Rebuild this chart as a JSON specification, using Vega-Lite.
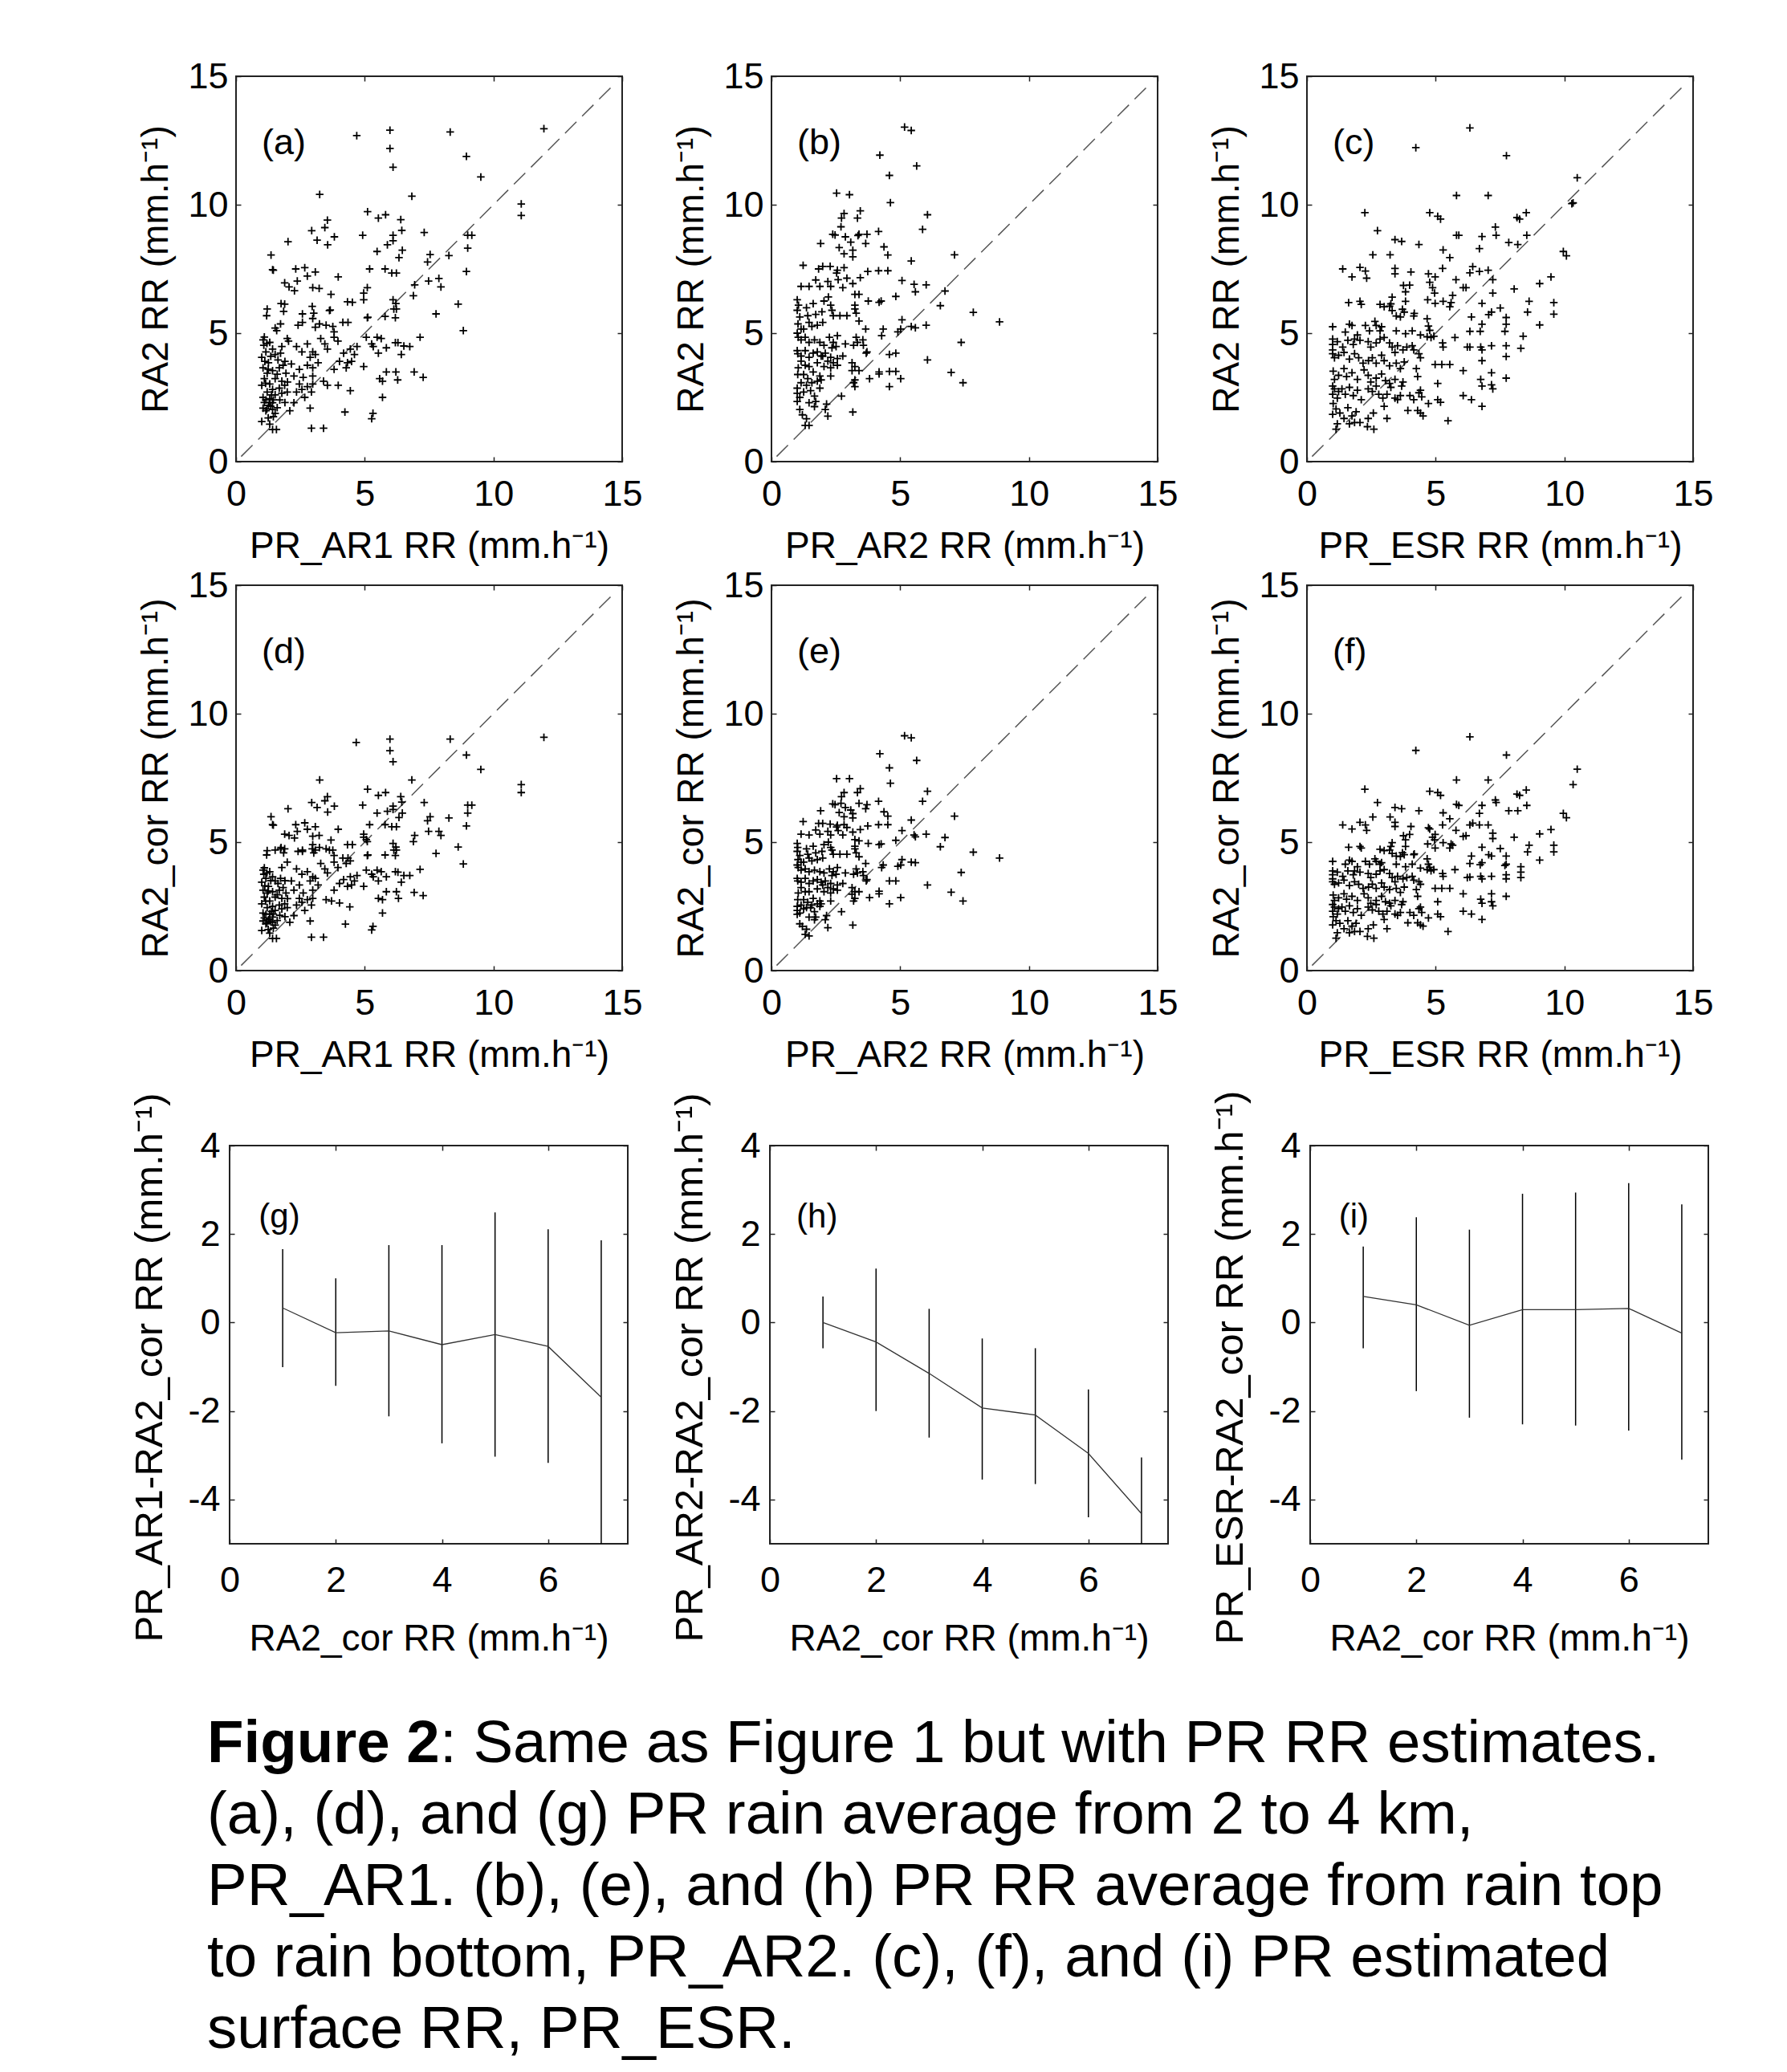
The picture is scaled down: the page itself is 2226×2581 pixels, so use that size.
{
"$schema": "https://vega.github.io/schema/vega-lite/v6.json",
"background": "white",
"padding": {"left": 161, "top": 72, "right": 0, "bottom": 0},
"config": {
  "font": "Liberation Sans",
  "view": {"stroke": "#222", "strokeWidth": 2},
  "axis": {"grid": false, "domain": false, "tickColor": "#222", "tickWidth": 1.5, "tickSize": -6,
           "labelFontSize": 45, "labelColor": "black", "titleFontSize": 46, "titleFontWeight": "normal",
           "titleColor": "black", "labelFlush": false, "labelOverlap": false},
  "axisX": {"labelPadding": 24, "titlePadding": 20},
  "axisY": {"labelPadding": 16, "titlePadding": 15}
},
"datasets": {
"diag": [{"x": 0.2, "y": 0.2}, {"x": 14.6, "y": 14.6}],
"a": [
{"x":4.69,"y":12.69},{"x":5.98,"y":12.9},{"x":5.98,"y":12.19},{"x":6.1,"y":11.46},{"x":8.32,"y":12.83},{"x":11.96,"y":12.96},{"x":8.95,"y":11.88},{"x":9.51,"y":11.08},{"x":11.08,"y":10.03},{"x":11.08,"y":9.58},{"x":3.25,"y":10.4},{"x":6.83,"y":10.33},{"x":5.11,"y":9.73},{"x":5.53,"y":9.48},{"x":5.81,"y":9.61},{"x":6.4,"y":9.42},{"x":3.55,"y":9.4},{"x":3.45,"y":9.11},{"x":2.94,"y":8.99},{"x":3.15,"y":8.62},{"x":3.56,"y":8.44},{"x":3.82,"y":8.75},{"x":2.02,"y":8.56},{"x":4.92,"y":8.81},{"x":6.1,"y":8.81},{"x":6.1,"y":8.6},{"x":5.88,"y":8.44},{"x":6.44,"y":9.0},{"x":6.46,"y":8.23},{"x":6.33,"y":7.94},{"x":5.48,"y":8.18},{"x":7.31,"y":8.92},{"x":7.54,"y":8.06},{"x":7.44,"y":7.77},{"x":9.0,"y":8.81},{"x":9.16,"y":8.81},{"x":9.0,"y":8.31},{"x":8.27,"y":8.02},{"x":8.95,"y":7.4},{"x":1.36,"y":8.04},{"x":1.42,"y":7.47},{"x":1.45,"y":7.45},{"x":2.32,"y":7.5},{"x":2.67,"y":7.55},{"x":3.08,"y":7.38},{"x":1.89,"y":6.96},{"x":2.06,"y":6.8},{"x":2.27,"y":6.65},{"x":2.38,"y":7.03},{"x":2.77,"y":7.22},{"x":3.97,"y":7.19},{"x":5.19,"y":7.5},{"x":5.79,"y":7.5},{"x":6.05,"y":7.34},{"x":6.23,"y":7.34},{"x":6.94,"y":6.88},{"x":7.48,"y":7.03},{"x":7.88,"y":7.13},{"x":7.96,"y":6.8},{"x":2.98,"y":6.77},{"x":3.23,"y":6.74},{"x":3.69,"y":6.51},{"x":5.1,"y":6.77},{"x":4.96,"y":6.56},{"x":4.96,"y":6.3},{"x":6.89,"y":6.46},{"x":6.1,"y":6.3},{"x":6.21,"y":6.15},{"x":6.13,"y":5.94},{"x":4.33,"y":6.22},{"x":4.52,"y":6.2},{"x":8.63,"y":6.13},{"x":1.75,"y":6.15},{"x":1.89,"y":6.13},{"x":1.85,"y":5.85},{"x":1.21,"y":5.94},{"x":1.19,"y":5.68},{"x":2.58,"y":5.75},{"x":2.96,"y":6.04},{"x":3.02,"y":5.78},{"x":3.63,"y":5.88},{"x":3.66,"y":5.9},{"x":5.1,"y":5.6},{"x":5.12,"y":5.62},{"x":5.79,"y":5.65},{"x":6.19,"y":5.6},{"x":6.23,"y":5.94},{"x":7.77,"y":5.75},{"x":8.83,"y":5.1},{"x":1.52,"y":5.2},{"x":1.73,"y":5.36},{"x":1.58,"y":5.1},{"x":2.41,"y":5.31},{"x":2.58,"y":5.42},{"x":2.98,"y":5.57},{"x":3.24,"y":5.36},{"x":3.08,"y":5.23},{"x":3.5,"y":5.31},{"x":3.76,"y":5.26},{"x":3.81,"y":5.05},{"x":4.15,"y":5.42},{"x":4.35,"y":5.42},{"x":7.15,"y":4.84},{"x":5.48,"y":4.84},{"x":5.64,"y":4.79},{"x":6.19,"y":4.63},{"x":6.29,"y":4.63},{"x":6.52,"y":4.5},{"x":6.75,"y":4.48},{"x":6.42,"y":4.17},{"x":5.06,"y":4.84},{"x":5.27,"y":4.58},{"x":5.33,"y":4.48},{"x":5.53,"y":4.22},{"x":5.84,"y":4.43},{"x":4.18,"y":4.22},{"x":4.44,"y":4.38},{"x":4.6,"y":4.17},{"x":4.33,"y":3.85},{"x":4.49,"y":3.9},{"x":4.28,"y":3.65},{"x":4.7,"y":4.48},{"x":4.96,"y":3.7},{"x":3.81,"y":3.59},{"x":4.02,"y":3.9},{"x":3.45,"y":4.58},{"x":3.55,"y":4.38},{"x":3.29,"y":4.79},{"x":3.81,"y":4.84},{"x":3.96,"y":4.69},{"x":2.77,"y":4.58},{"x":2.98,"y":4.27},{"x":2.88,"y":4.06},{"x":3.08,"y":4.17},{"x":3.19,"y":3.85},{"x":2.98,"y":3.65},{"x":2.77,"y":3.75},{"x":2.56,"y":4.27},{"x":2.35,"y":4.48},{"x":1.99,"y":4.79},{"x":2.04,"y":4.69},{"x":1.78,"y":4.48},
{"x":1.05,"y":4.74},{"x":1.08,"y":4.53},{"x":1.16,"y":4.27},{"x":1.0,"y":4.06},{"x":1.31,"y":4.64},{"x":1.42,"y":4.38},{"x":1.52,"y":4.17},{"x":1.63,"y":3.96},{"x":1.73,"y":4.22},{"x":1.26,"y":3.85},{"x":1.05,"y":3.65},{"x":1.21,"y":3.44},{"x":1.42,"y":3.54},{"x":1.68,"y":3.65},{"x":1.83,"y":3.75},{"x":1.94,"y":3.44},{"x":1.1,"y":3.23},{"x":1.31,"y":3.02},{"x":1.52,"y":3.23},{"x":1.78,"y":3.13},{"x":1.0,"y":2.97},{"x":1.21,"y":2.71},{"x":1.42,"y":2.81},{"x":1.68,"y":2.86},{"x":1.89,"y":2.97},{"x":1.05,"y":2.5},{"x":1.16,"y":2.4},{"x":1.31,"y":2.45},{"x":1.42,"y":2.29},{"x":1.52,"y":2.6},{"x":1.26,"y":2.19},{"x":1.05,"y":2.08},{"x":1.42,"y":2.03},{"x":1.52,"y":1.88},{"x":1.16,"y":1.98},{"x":1.78,"y":2.66},{"x":1.99,"y":2.71},{"x":1.0,"y":1.56},{"x":1.42,"y":1.25},{"x":1.57,"y":1.25},{"x":1.31,"y":1.46},
{"x":1.1,"y":4.85},{"x":1.2,"y":4.6},{"x":1.35,"y":4.1},{"x":1.12,"y":3.9},{"x":1.25,"y":3.6},{"x":1.6,"y":3.4},{"x":1.15,"y":3.05},{"x":1.38,"y":2.6},{"x":1.1,"y":2.3},{"x":1.3,"y":2.3},{"x":1.35,"y":2.15},{"x":1.2,"y":2.05},{"x":1.45,"y":2.4},{"x":1.6,"y":2.1},{"x":1.7,"y":2.4},{"x":1.9,"y":2.3},{"x":1.9,"y":3.9},{"x":2.0,"y":3.1},{"x":1.45,"y":1.75},{"x":1.25,"y":1.7},
{"x":2.25,"y":3.33},{"x":2.46,"y":3.02},{"x":2.61,"y":3.28},{"x":2.35,"y":2.71},{"x":2.56,"y":2.81},{"x":2.77,"y":2.92},{"x":2.98,"y":3.02},{"x":2.93,"y":2.71},{"x":2.25,"y":2.29},{"x":2.88,"y":2.08},{"x":2.67,"y":2.5},{"x":2.09,"y":1.98},{"x":2.46,"y":3.59},{"x":2.15,"y":3.8},{"x":2.98,"y":3.33},{"x":3.4,"y":3.13},{"x":3.55,"y":2.97},{"x":3.97,"y":2.97},{"x":4.44,"y":2.76},{"x":4.23,"y":1.93},{"x":5.32,"y":1.88},{"x":5.27,"y":1.67},{"x":5.69,"y":2.5},{"x":5.58,"y":3.23},{"x":5.69,"y":3.13},{"x":5.84,"y":3.49},{"x":6.21,"y":3.49},{"x":6.28,"y":3.18},{"x":6.92,"y":3.49},{"x":7.27,"y":3.28},{"x":2.93,"y":1.3},{"x":3.4,"y":1.3}
],
"d": [
{"x":4.67,"y":8.88},{"x":5.98,"y":9.01},{"x":5.98,"y":8.56},{"x":6.1,"y":8.13},{"x":8.32,"y":9.01},{"x":11.96,"y":9.08},{"x":8.95,"y":8.39},{"x":9.51,"y":7.83},{"x":11.08,"y":7.24},{"x":11.08,"y":6.93},{"x":3.25,"y":7.42},{"x":6.83,"y":7.42},{"x":5.11,"y":7.06},{"x":5.53,"y":6.82},{"x":5.81,"y":6.93},{"x":6.4,"y":6.77},{"x":3.55,"y":6.77},{"x":3.45,"y":6.61},{"x":2.94,"y":6.54},{"x":3.15,"y":6.35},{"x":3.56,"y":6.17},{"x":3.82,"y":6.4},{"x":2.02,"y":6.3},{"x":4.92,"y":6.44},{"x":6.1,"y":6.4},{"x":6.1,"y":6.27},{"x":5.88,"y":6.2},{"x":6.44,"y":6.56},{"x":6.46,"y":6.13},{"x":6.33,"y":5.96},{"x":5.48,"y":6.13},{"x":7.31,"y":6.54},{"x":7.54,"y":5.99},{"x":7.44,"y":5.83},{"x":9.0,"y":6.44},{"x":9.16,"y":6.44},{"x":9.0,"y":6.13},{"x":8.27,"y":5.94},{"x":8.95,"y":5.63},{"x":1.36,"y":5.99},{"x":1.42,"y":5.68},{"x":1.45,"y":5.66},{"x":2.32,"y":5.68},{"x":2.67,"y":5.75},{"x":3.08,"y":5.6},{"x":1.89,"y":5.31},{"x":2.06,"y":5.26},{"x":2.27,"y":5.16},{"x":2.38,"y":5.42},{"x":2.77,"y":5.5},{"x":3.97,"y":5.5},{"x":5.19,"y":5.68},{"x":5.79,"y":5.68},{"x":6.05,"y":5.6},{"x":6.23,"y":5.6},{"x":6.94,"y":5.26},{"x":7.48,"y":5.42},{"x":7.88,"y":5.42},{"x":7.96,"y":5.26},{"x":2.98,"y":5.23},{"x":3.23,"y":5.26},{"x":3.69,"y":5.08},{"x":5.1,"y":5.02},{"x":4.96,"y":5.19},{"x":6.89,"y":5.02},{"x":6.1,"y":4.95},{"x":6.21,"y":4.81},{"x":6.13,"y":4.69},{"x":4.33,"y":4.9},{"x":4.52,"y":4.9},{"x":8.63,"y":4.81},{"x":1.75,"y":4.79},{"x":1.89,"y":4.74},{"x":1.85,"y":4.58},{"x":1.21,"y":4.67},{"x":1.19,"y":4.5},{"x":2.58,"y":4.64},{"x":2.96,"y":4.74},{"x":3.02,"y":4.58},{"x":3.63,"y":4.69},{"x":5.1,"y":4.48},{"x":5.12,"y":4.5},{"x":5.79,"y":4.5},{"x":6.19,"y":4.48},{"x":6.23,"y":4.69},{"x":7.77,"y":4.56},{"x":8.83,"y":4.15},
{"x":1.05,"y":3.91},{"x":1.08,"y":3.75},{"x":1.16,"y":3.59},{"x":1.0,"y":3.44},{"x":1.31,"y":3.85},{"x":1.42,"y":3.65},{"x":1.52,"y":3.49},{"x":1.63,"y":3.39},{"x":1.73,"y":3.59},{"x":1.26,"y":3.28},{"x":1.05,"y":3.13},{"x":1.21,"y":3.02},{"x":1.42,"y":3.07},{"x":1.68,"y":3.13},{"x":1.83,"y":3.23},{"x":1.94,"y":3.02},{"x":1.1,"y":2.86},{"x":1.31,"y":2.71},{"x":1.52,"y":2.86},{"x":1.78,"y":2.81},{"x":1.0,"y":2.6},{"x":1.21,"y":2.45},{"x":1.42,"y":2.5},{"x":1.68,"y":2.55},{"x":1.89,"y":2.6},{"x":1.05,"y":2.24},{"x":1.16,"y":2.19},{"x":1.31,"y":2.21},{"x":1.42,"y":2.08},{"x":1.52,"y":2.34},{"x":1.26,"y":1.98},{"x":1.05,"y":1.93},{"x":1.42,"y":1.88},{"x":1.52,"y":1.77},{"x":1.16,"y":1.82},{"x":1.78,"y":2.4},{"x":1.99,"y":2.45},{"x":1.0,"y":1.56},{"x":1.42,"y":1.25},{"x":1.57,"y":1.25},{"x":1.31,"y":1.46},
{"x":1.1,"y":4.0},{"x":1.2,"y":3.8},{"x":1.35,"y":3.5},{"x":1.12,"y":3.3},{"x":1.25,"y":3.1},{"x":1.6,"y":2.95},{"x":1.15,"y":2.7},{"x":1.38,"y":2.3},{"x":1.1,"y":2.05},{"x":1.3,"y":2.0},{"x":1.35,"y":1.9},{"x":1.2,"y":1.85},{"x":1.45,"y":2.2},{"x":1.6,"y":1.95},{"x":1.7,"y":2.15},{"x":1.9,"y":2.1},{"x":1.9,"y":3.5},{"x":2.0,"y":2.8},{"x":1.45,"y":1.65},{"x":1.25,"y":1.6},
{"x":2.25,"y":3.13},{"x":2.46,"y":2.81},{"x":2.61,"y":3.02},{"x":2.35,"y":2.55},{"x":2.56,"y":2.66},{"x":2.77,"y":2.76},{"x":2.98,"y":2.81},{"x":2.93,"y":2.55},{"x":2.25,"y":2.14},{"x":2.88,"y":1.93},{"x":2.67,"y":2.34},{"x":2.09,"y":1.88},{"x":2.46,"y":3.33},{"x":2.15,"y":3.49},{"x":2.98,"y":3.13},{"x":3.5,"y":2.76},{"x":3.71,"y":2.71},{"x":4.02,"y":2.63},{"x":4.42,"y":2.48},{"x":4.25,"y":1.81},{"x":5.32,"y":1.72},{"x":5.27,"y":1.58},{"x":5.69,"y":2.24},{"x":5.53,"y":2.81},{"x":5.69,"y":2.76},{"x":5.84,"y":3.07},{"x":6.23,"y":3.07},{"x":6.31,"y":2.81},{"x":6.92,"y":3.04},{"x":7.27,"y":2.92},{"x":2.93,"y":1.3},{"x":3.4,"y":1.3},
{"x":2.77,"y":3.85},{"x":2.98,"y":3.65},{"x":2.88,"y":3.49},{"x":3.08,"y":3.59},{"x":3.19,"y":3.33},{"x":2.56,"y":3.75},{"x":2.35,"y":3.96},{"x":1.99,"y":4.22},{"x":1.78,"y":4.01},{"x":3.45,"y":3.96},{"x":3.55,"y":3.8},{"x":3.29,"y":4.17},{"x":3.81,"y":4.22},{"x":3.96,"y":4.01},{"x":4.18,"y":3.54},{"x":4.44,"y":3.65},{"x":4.6,"y":3.49},{"x":4.33,"y":3.28},{"x":4.49,"y":3.33},{"x":4.7,"y":3.7},{"x":4.96,"y":3.28},{"x":3.81,"y":3.13},{"x":4.02,"y":3.39},{"x":4.28,"y":4.17},{"x":4.44,"y":4.27},{"x":5.48,"y":3.91},{"x":5.64,"y":3.85},{"x":6.19,"y":3.85},{"x":6.29,"y":3.83},{"x":6.52,"y":3.7},{"x":6.75,"y":3.7},{"x":6.42,"y":3.44},{"x":5.06,"y":3.91},{"x":5.27,"y":3.75},{"x":5.33,"y":3.65},{"x":5.53,"y":3.49},{"x":5.84,"y":3.65},{"x":7.15,"y":3.94},{"x":1.52,"y":4.69},{"x":1.73,"y":4.74},{"x":2.41,"y":4.64},{"x":2.58,"y":4.69},{"x":2.98,"y":4.9},{"x":3.24,"y":4.79},{"x":3.08,"y":4.69},{"x":3.5,"y":4.74},{"x":3.76,"y":4.69},{"x":3.81,"y":4.48},{"x":4.15,"y":4.38},{"x":4.35,"y":4.38},{"x":5.06,"y":5.1},{"x":4.96,"y":5.31}
],
"b": [
{"x":5.17,"y":13.02},{"x":5.43,"y":12.89},{"x":4.21,"y":11.93},{"x":5.64,"y":11.51},{"x":4.58,"y":11.14},{"x":2.53,"y":10.45},{"x":3.03,"y":10.39},{"x":4.62,"y":10.08},{"x":6.06,"y":9.61},{"x":2.82,"y":9.66},{"x":2.72,"y":9.48},{"x":2.7,"y":9.14},{"x":3.45,"y":9.76},{"x":3.34,"y":9.48},{"x":5.87,"y":9.04},{"x":2.38,"y":8.85},{"x":2.47,"y":8.82},{"x":2.87,"y":8.75},{"x":3.08,"y":8.54},{"x":3.4,"y":8.85},{"x":3.36,"y":8.8},{"x":3.71,"y":8.85},{"x":3.66,"y":8.49},{"x":4.16,"y":8.96},{"x":1.91,"y":8.49},{"x":2.63,"y":8.33},{"x":2.82,"y":8.09},{"x":3.16,"y":8.23},{"x":3.16,"y":7.97},{"x":4.37,"y":8.36},{"x":4.52,"y":8.04},{"x":5.43,"y":7.81},{"x":7.11,"y":8.05},{"x":1.23,"y":7.64},{"x":1.83,"y":7.5},{"x":1.99,"y":7.6},{"x":2.28,"y":7.6},{"x":2.56,"y":7.45},{"x":2.82,"y":7.55},{"x":2.53,"y":7.34},{"x":3.74,"y":7.4},{"x":3.45,"y":7.16},{"x":4.16,"y":7.43},{"x":4.52,"y":7.43},{"x":5.07,"y":7.05},{"x":5.54,"y":6.9},{"x":5.59,"y":6.61},{"x":6.01,"y":6.88},{"x":6.74,"y":6.64},{"x":1.15,"y":6.82},{"x":1.46,"y":6.82},{"x":1.72,"y":7.07},{"x":1.88,"y":6.82},{"x":2.19,"y":7.01},{"x":2.3,"y":6.82},{"x":2.59,"y":7.08},{"x":2.77,"y":6.77},{"x":2.93,"y":7.14},{"x":3.16,"y":6.93},{"x":3.24,"y":6.51},{"x":3.4,"y":6.51},{"x":4.83,"y":6.43},{"x":3.76,"y":6.25},{"x":4.18,"y":6.2},{"x":4.26,"y":6.25},{"x":6.56,"y":6.07},{"x":7.84,"y":5.81},{"x":8.86,"y":5.44},{"x":1.0,"y":6.3},{"x":1.05,"y":6.09},{"x":1.0,"y":5.89},{"x":1.1,"y":5.63},{"x":1.03,"y":5.36},{"x":1.15,"y":5.16},{"x":1.0,"y":5.0},{"x":1.36,"y":5.99},{"x":1.62,"y":6.15},{"x":1.72,"y":5.73},{"x":2.04,"y":6.25},{"x":2.21,"y":6.41},{"x":2.3,"y":6.09},{"x":1.96,"y":5.83},{"x":1.41,"y":5.68},{"x":1.46,"y":5.42},{"x":1.25,"y":5.16},{"x":1.57,"y":5.26},{"x":1.78,"y":5.31},{"x":1.99,"y":5.42},{"x":2.35,"y":5.89},{"x":2.4,"y":5.68},{"x":2.66,"y":5.68},{"x":2.93,"y":5.68},{"x":3.24,"y":5.94},{"x":3.29,"y":5.78},{"x":3.24,"y":6.09},{"x":3.4,"y":5.47},{"x":3.66,"y":5.16},{"x":4.34,"y":5.16},{"x":4.28,"y":4.9},{"x":4.91,"y":5.05},{"x":5.02,"y":5.16},{"x":5.07,"y":5.52},{"x":5.43,"y":5.26},{"x":5.59,"y":5.21},{"x":6.01,"y":5.31},{"x":1.04,"y":4.84},{"x":1.15,"y":4.74},{"x":1.31,"y":4.84},{"x":1.46,"y":4.64},{"x":1.67,"y":4.74},{"x":1.88,"y":4.64},{"x":2.04,"y":4.53},{"x":2.25,"y":4.84},{"x":2.4,"y":4.64},{"x":2.56,"y":4.9},{"x":2.35,"y":4.43},{"x":2.51,"y":4.48},{"x":2.87,"y":4.58},{"x":3.19,"y":4.53},{"x":3.29,"y":4.84},{"x":3.34,"y":4.64},{"x":3.55,"y":4.74},{"x":3.57,"y":4.53},{"x":1.0,"y":4.32},{"x":1.02,"y":4.2},{"x":1.15,"y":4.11},{"x":1.31,"y":4.32},{"x":1.46,"y":4.06},{"x":1.62,"y":4.22},{"x":1.78,"y":4.27},{"x":1.93,"y":4.11},{"x":2.09,"y":4.22},{"x":2.3,"y":4.06},{"x":2.56,"y":4.01},{"x":2.77,"y":4.11},{"x":3.71,"y":4.27},{"x":3.68,"y":4.22},{"x":4.58,"y":4.17},{"x":4.83,"y":4.22},{"x":7.37,"y":4.64},{"x":6.06,"y":3.96},{"x":1.15,"y":3.91},{"x":1.31,"y":3.75},{"x":1.04,"y":3.65},{"x":1.46,"y":3.7},{"x":1.78,"y":3.85},{"x":2.04,"y":3.7},{"x":2.4,"y":3.85},{"x":2.56,"y":3.75},{"x":2.3,"y":3.65},{"x":1.99,"y":4.11},{"x":2.19,"y":3.91},{"x":3.13,"y":3.85},{"x":3.24,"y":3.7},{"x":3.13,"y":3.54},{"x":3.4,"y":3.54},{"x":4.58,"y":3.51},{"x":4.83,"y":3.51},{"x":6.98,"y":3.47},{"x":7.44,"y":3.07},{"x":1.02,"y":3.39},{"x":1.25,"y":3.39},{"x":1.41,"y":3.23},{"x":1.62,"y":3.49},{"x":1.88,"y":3.33},{"x":1.15,"y":3.07},{"x":1.36,"y":2.97},{"x":1.57,"y":3.07},{"x":1.78,"y":3.13},{"x":1.93,"y":3.18},{"x":2.3,"y":3.33},{"x":3.24,"y":3.18},{"x":3.19,"y":3.07},{"x":3.81,"y":3.23},{"x":4.18,"y":3.49},{"x":4.18,"y":3.41},{"x":4.58,"y":2.92},{"x":5.02,"y":3.23},{"x":3.24,"y":2.92},{"x":1.0,"y":2.86},{"x":1.0,"y":2.66},{"x":1.1,"y":2.5},{"x":1.25,"y":2.71},{"x":1.52,"y":2.76},{"x":1.67,"y":2.55},{"x":1.88,"y":2.86},{"x":1.72,"y":2.34},{"x":1.0,"y":2.34},{"x":1.46,"y":2.29},{"x":2.72,"y":2.55},{"x":2.14,"y":2.24},{"x":2.09,"y":2.03},{"x":2.19,"y":1.77},{"x":1.67,"y":2.14},{"x":1.1,"y":2.03},{"x":1.2,"y":1.82},{"x":1.36,"y":1.67},{"x":1.31,"y":1.41},{"x":1.46,"y":1.41},{"x":3.16,"y":1.93}
],
"e": [
{"x":5.17,"y":9.14},{"x":5.43,"y":9.06},{"x":4.21,"y":8.44},{"x":5.64,"y":8.18},{"x":4.58,"y":7.89},{"x":2.53,"y":7.47},{"x":3.03,"y":7.47},{"x":4.62,"y":7.29},{"x":6.06,"y":6.98},{"x":5.87,"y":6.59},{"x":2.82,"y":6.93},{"x":2.72,"y":6.77},{"x":2.7,"y":6.51},{"x":3.45,"y":7.08},{"x":3.34,"y":6.93},{"x":2.38,"y":6.49},{"x":2.47,"y":6.46},{"x":2.87,"y":6.35},{"x":3.08,"y":6.25},{"x":3.4,"y":6.51},{"x":3.71,"y":6.46},{"x":3.66,"y":6.3},{"x":4.16,"y":6.59},{"x":1.91,"y":6.22},{"x":2.63,"y":6.15},{"x":2.82,"y":5.99},{"x":3.16,"y":6.11},{"x":3.16,"y":5.94},{"x":4.37,"y":6.18},{"x":4.52,"y":6.01},{"x":5.43,"y":5.86},{"x":7.11,"y":6.01},{"x":1.23,"y":5.8},{"x":1.83,"y":5.73},{"x":1.99,"y":5.73},{"x":2.28,"y":5.7},{"x":2.56,"y":5.66},{"x":2.82,"y":5.68},{"x":2.53,"y":5.59},{"x":3.74,"y":5.63},{"x":3.45,"y":5.49},{"x":4.16,"y":5.68},{"x":4.52,"y":5.68},{"x":5.07,"y":5.45},{"x":5.54,"y":5.28},{"x":5.59,"y":5.21},{"x":6.01,"y":5.31},{"x":6.74,"y":5.18},{"x":1.15,"y":5.31},{"x":1.46,"y":5.28},{"x":1.72,"y":5.47},{"x":1.88,"y":5.31},{"x":2.19,"y":5.42},{"x":2.3,"y":5.28},{"x":2.59,"y":5.45},{"x":2.77,"y":5.28},{"x":2.93,"y":5.57},{"x":3.16,"y":5.39},{"x":3.24,"y":5.1},{"x":3.4,"y":5.05},{"x":4.83,"y":5.07},{"x":3.76,"y":4.95},{"x":4.18,"y":4.9},{"x":4.26,"y":4.93},{"x":6.56,"y":4.82},{"x":7.84,"y":4.61},{"x":8.86,"y":4.38},{"x":1.0,"y":4.95},{"x":1.02,"y":4.79},{"x":1.0,"y":4.64},{"x":1.1,"y":4.48},{"x":1.03,"y":4.32},{"x":1.15,"y":4.22},{"x":1.0,"y":4.11},{"x":1.36,"y":4.74},{"x":1.62,"y":4.84},{"x":1.72,"y":4.58},{"x":2.04,"y":4.9},{"x":2.21,"y":5.0},{"x":2.3,"y":4.79},{"x":1.96,"y":4.64},{"x":1.41,"y":4.53},{"x":1.46,"y":4.38},{"x":1.25,"y":4.22},{"x":1.57,"y":4.27},{"x":1.78,"y":4.32},{"x":1.99,"y":4.38},{"x":2.35,"y":4.69},{"x":2.4,"y":4.53},{"x":2.66,"y":4.53},{"x":2.93,"y":4.53},{"x":3.24,"y":4.74},{"x":3.29,"y":4.58},{"x":3.24,"y":4.84},{"x":3.4,"y":4.43},{"x":3.66,"y":4.17},{"x":4.34,"y":4.11},{"x":4.28,"y":4.01},{"x":4.91,"y":4.06},{"x":5.02,"y":4.11},{"x":5.07,"y":4.32},{"x":5.43,"y":4.22},{"x":5.59,"y":4.2},{"x":1.04,"y":4.01},{"x":1.15,"y":3.91},{"x":1.31,"y":3.96},{"x":1.46,"y":3.85},{"x":1.67,"y":3.91},{"x":1.88,"y":3.85},{"x":2.04,"y":3.8},{"x":2.25,"y":3.96},{"x":2.4,"y":3.85},{"x":2.56,"y":4.01},{"x":2.35,"y":3.7},{"x":2.51,"y":3.75},{"x":2.87,"y":3.8},{"x":3.19,"y":3.75},{"x":3.29,"y":3.96},{"x":3.34,"y":3.8},{"x":3.55,"y":3.85},{"x":3.57,"y":3.7},{"x":1.0,"y":3.59},{"x":1.02,"y":3.49},{"x":1.15,"y":3.44},{"x":1.31,"y":3.59},{"x":1.46,"y":3.39},{"x":1.62,"y":3.49},{"x":1.78,"y":3.54},{"x":1.93,"y":3.44},{"x":2.09,"y":3.49},{"x":2.3,"y":3.39},{"x":2.56,"y":3.33},{"x":2.77,"y":3.39},{"x":3.71,"y":3.54},{"x":3.68,"y":3.49},{"x":4.58,"y":3.49},{"x":4.83,"y":3.49},{"x":7.37,"y":3.82},{"x":6.06,"y":3.33},{"x":1.15,"y":3.23},{"x":1.31,"y":3.07},{"x":1.04,"y":3.02},{"x":1.46,"y":3.07},{"x":1.78,"y":3.18},{"x":2.04,"y":3.07},{"x":2.4,"y":3.18},{"x":2.56,"y":3.13},{"x":2.3,"y":3.02},{"x":1.99,"y":3.33},{"x":2.19,"y":3.23},{"x":3.13,"y":3.23},{"x":3.24,"y":3.07},{"x":3.13,"y":2.97},{"x":3.4,"y":3.07},{"x":6.98,"y":3.05},{"x":7.44,"y":2.71},{"x":1.02,"y":2.76},{"x":1.25,"y":2.76},{"x":1.41,"y":2.66},{"x":1.62,"y":2.81},{"x":1.88,"y":2.71},{"x":1.15,"y":2.55},{"x":1.36,"y":2.45},{"x":1.57,"y":2.55},{"x":1.78,"y":2.6},{"x":1.93,"y":2.6},{"x":2.3,"y":2.71},{"x":3.24,"y":2.81},{"x":3.19,"y":2.71},{"x":3.81,"y":2.84},{"x":4.18,"y":3.09},{"x":4.18,"y":2.99},{"x":4.58,"y":2.6},{"x":5.02,"y":2.84},{"x":1.0,"y":2.5},{"x":1.0,"y":2.34},{"x":1.1,"y":2.24},{"x":1.25,"y":2.4},{"x":1.52,"y":2.45},{"x":1.67,"y":2.29},{"x":1.88,"y":2.5},{"x":1.72,"y":2.08},{"x":1.0,"y":2.19},{"x":1.46,"y":2.08},{"x":2.72,"y":2.29},{"x":2.14,"y":2.14},{"x":2.09,"y":1.98},{"x":2.19,"y":1.67},{"x":1.67,"y":1.98},{"x":1.1,"y":1.82},{"x":1.2,"y":1.72},{"x":1.36,"y":1.61},{"x":1.31,"y":1.41},{"x":1.46,"y":1.35},{"x":3.16,"y":1.77}
],
"c": [
{"x":6.33,"y":12.99},{"x":4.23,"y":12.22},{"x":7.75,"y":11.91},{"x":10.5,"y":11.05},{"x":5.81,"y":10.36},{"x":7.04,"y":10.36},{"x":10.34,"y":10.07},{"x":10.29,"y":10.04},{"x":2.25,"y":9.69},{"x":4.77,"y":9.69},{"x":5.08,"y":9.55},{"x":5.19,"y":9.44},{"x":8.52,"y":9.69},{"x":8.16,"y":9.5},{"x":8.26,"y":9.44},{"x":7.32,"y":9.13},{"x":7.35,"y":8.81},{"x":2.74,"y":8.99},{"x":5.81,"y":8.81},{"x":5.9,"y":8.81},{"x":6.8,"y":8.76},{"x":8.54,"y":8.81},{"x":3.42,"y":8.64},{"x":3.68,"y":8.57},{"x":4.35,"y":8.45},{"x":5.29,"y":8.24},{"x":5.55,"y":7.94},{"x":6.7,"y":8.29},{"x":7.84,"y":8.53},{"x":8.19,"y":8.45},{"x":2.56,"y":8.05},{"x":3.23,"y":8.05},{"x":9.96,"y":8.18},{"x":10.08,"y":8.01},{"x":1.39,"y":7.5},{"x":2.06,"y":7.56},{"x":2.27,"y":7.42},{"x":2.32,"y":7.14},{"x":1.75,"y":7.19},{"x":3.42,"y":7.52},{"x":3.42,"y":7.31},{"x":4.04,"y":7.38},{"x":4.72,"y":7.31},{"x":4.98,"y":7.19},{"x":5.27,"y":7.52},{"x":5.79,"y":7.08},{"x":6.33,"y":7.35},{"x":6.44,"y":7.59},{"x":6.7,"y":7.4},{"x":7.04,"y":7.45},{"x":7.22,"y":7.08},{"x":9.04,"y":6.93},{"x":9.48,"y":7.19},{"x":3.75,"y":6.86},{"x":3.99,"y":6.87},{"x":3.83,"y":6.61},{"x":4.77,"y":6.98},{"x":4.88,"y":6.77},{"x":4.96,"y":6.56},{"x":5.66,"y":6.47},{"x":5.6,"y":6.19},{"x":5.29,"y":6.24},{"x":5.55,"y":6.03},{"x":6.07,"y":6.77},{"x":6.18,"y":6.77},{"x":7.22,"y":6.56},{"x":8.05,"y":6.72},{"x":3.31,"y":6.4},{"x":3.26,"y":6.14},{"x":3.83,"y":6.24},{"x":4.69,"y":6.3},{"x":4.98,"y":6.16},{"x":6.8,"y":6.16},{"x":7.17,"y":5.82},{"x":7.06,"y":5.72},{"x":7.51,"y":5.98},{"x":8.63,"y":6.24},{"x":8.57,"y":5.82},{"x":9.59,"y":6.19},{"x":9.59,"y":5.74},{"x":1.62,"y":6.19},{"x":2.06,"y":6.24},{"x":2.11,"y":6.12},{"x":2.84,"y":6.12},{"x":3.0,"y":6.03},{"x":3.21,"y":6.05},{"x":3.31,"y":5.88},{"x":3.71,"y":5.93},{"x":3.78,"y":5.82},{"x":3.47,"y":5.67},{"x":3.63,"y":5.63},{"x":4.15,"y":5.67},{"x":4.17,"y":5.77},{"x":6.39,"y":5.63},{"x":6.8,"y":5.35},{"x":7.74,"y":5.61},{"x":7.74,"y":5.35},{"x":9.04,"y":5.32},{"x":1.0,"y":5.25},{"x":1.65,"y":5.35},{"x":1.75,"y":5.3},{"x":2.27,"y":5.3},{"x":2.64,"y":5.46},{"x":2.69,"y":5.3},{"x":2.9,"y":5.25},{"x":4.67,"y":5.56},{"x":4.72,"y":5.28},{"x":4.77,"y":5.11},{"x":1.49,"y":5.04},{"x":1.96,"y":4.93},{"x":2.43,"y":5.09},{"x":2.84,"y":5.09},{"x":3.0,"y":4.83},{"x":3.47,"y":5.09},{"x":3.83,"y":4.98},{"x":4.09,"y":5.09},{"x":4.41,"y":4.93},{"x":4.67,"y":4.86},{"x":4.82,"y":4.83},{"x":4.93,"y":4.88},{"x":5.27,"y":4.62},{"x":5.29,"y":4.46},{"x":5.75,"y":4.83},{"x":6.33,"y":5.07},{"x":6.73,"y":5.07},{"x":7.69,"y":5.07},{"x":8.4,"y":4.88},{"x":1.0,"y":4.77},{"x":1.0,"y":4.56},{"x":1.0,"y":4.35},{"x":1.18,"y":4.67},{"x":1.39,"y":4.46},{"x":1.59,"y":4.72},{"x":1.8,"y":4.56},{"x":1.85,"y":4.77},{"x":2.06,"y":4.72},{"x":2.38,"y":4.67},{"x":2.48,"y":4.46},{"x":2.69,"y":4.62},{"x":2.84,"y":4.77},{"x":3.21,"y":4.62},{"x":3.31,"y":4.46},{"x":3.42,"y":4.25},{"x":3.52,"y":4.51},{"x":3.73,"y":4.35},{"x":3.88,"y":4.46},{"x":4.09,"y":4.51},{"x":4.15,"y":4.35},{"x":6.23,"y":4.46},{"x":6.33,"y":4.46},{"x":6.75,"y":4.46},{"x":6.8,"y":4.35},{"x":7.17,"y":4.51},{"x":7.74,"y":4.51},{"x":8.31,"y":4.41},{"x":4.35,"y":4.2},{"x":4.41,"y":4.04},{"x":1.0,"y":4.2},{"x":1.07,"y":4.04},{"x":1.23,"y":4.14},{"x":1.44,"y":4.25},{"x":1.65,"y":3.99},{"x":1.85,"y":4.2},{"x":2.01,"y":4.04},{"x":2.18,"y":3.83},{"x":2.39,"y":3.93},{"x":2.54,"y":4.04},{"x":2.69,"y":3.83},{"x":2.9,"y":4.14},{"x":3.0,"y":3.93},{"x":3.21,"y":3.73},{"x":3.47,"y":3.83},{"x":3.63,"y":3.62},{"x":3.78,"y":3.88},{"x":4.98,"y":3.78},{"x":5.24,"y":3.78},{"x":5.55,"y":3.78},{"x":6.8,"y":3.93},{"x":7.74,"y":4.09},{"x":6.07,"y":3.54},{"x":7.17,"y":3.46},{"x":7.74,"y":3.25},{"x":4.25,"y":3.62},{"x":4.3,"y":3.31},{"x":1.02,"y":3.52},{"x":1.23,"y":3.36},{"x":1.44,"y":3.62},{"x":1.07,"y":3.2},{"x":1.54,"y":3.31},{"x":1.75,"y":3.46},{"x":1.96,"y":3.2},{"x":2.22,"y":3.57},{"x":2.38,"y":3.36},{"x":2.48,"y":3.1},{"x":2.69,"y":3.25},{"x":2.9,"y":3.41},{"x":3.05,"y":3.15},{"x":3.21,"y":3.04},{"x":3.42,"y":3.2},{"x":3.68,"y":2.94},{"x":3.73,"y":3.1},{"x":5.08,"y":3.04},{"x":6.75,"y":3.2},{"x":6.8,"y":2.94},{"x":7.17,"y":2.99},{"x":7.22,"y":2.83},{"x":1.0,"y":2.94},{"x":1.07,"y":2.83},{"x":1.23,"y":2.73},{"x":1.0,"y":2.62},{"x":1.18,"y":2.47},{"x":1.36,"y":2.83},{"x":1.49,"y":2.62},{"x":1.65,"y":2.89},{"x":1.8,"y":2.57},{"x":1.96,"y":2.78},{"x":2.11,"y":2.41},{"x":2.38,"y":2.83},{"x":2.54,"y":2.73},{"x":2.69,"y":2.94},{"x":2.79,"y":2.62},{"x":2.95,"y":2.47},{"x":3.11,"y":2.62},{"x":3.26,"y":2.89},{"x":3.42,"y":2.47},{"x":3.52,"y":2.41},{"x":3.63,"y":2.57},{"x":4.0,"y":2.57},{"x":4.15,"y":2.41},{"x":4.35,"y":2.68},{"x":4.41,"y":2.78},{"x":4.46,"y":2.52},{"x":4.72,"y":2.26},{"x":5.08,"y":2.41},{"x":5.19,"y":2.31},{"x":6.07,"y":2.57},{"x":6.39,"y":2.41},{"x":6.8,"y":2.15},{"x":1.02,"y":2.26},{"x":1.13,"y":2.05},{"x":1.0,"y":1.84},{"x":1.28,"y":1.89},{"x":1.44,"y":1.68},{"x":1.59,"y":2.1},{"x":1.75,"y":1.78},{"x":1.91,"y":1.94},{"x":2.06,"y":1.52},{"x":2.38,"y":1.68},{"x":2.58,"y":1.89},{"x":3.0,"y":2.15},{"x":3.92,"y":1.99},{"x":4.3,"y":1.99},{"x":4.41,"y":1.89},{"x":4.51,"y":1.78},{"x":3.11,"y":1.68},{"x":1.18,"y":1.47},{"x":1.65,"y":1.47},{"x":1.85,"y":1.52},{"x":2.35,"y":1.36},{"x":2.6,"y":1.26},{"x":5.48,"y":1.59},{"x":1.13,"y":1.26}
],
"f": [
{"x":6.33,"y":9.1},{"x":4.23,"y":8.57},{"x":7.75,"y":8.39},{"x":10.5,"y":7.84},{"x":10.34,"y":7.24},{"x":5.81,"y":7.42},{"x":7.04,"y":7.42},{"x":2.25,"y":7.06},{"x":4.77,"y":6.98},{"x":5.08,"y":6.93},{"x":5.19,"y":6.82},{"x":8.52,"y":7.03},{"x":8.16,"y":6.87},{"x":8.26,"y":6.82},{"x":7.32,"y":6.64},{"x":7.35,"y":6.54},{"x":2.74,"y":6.54},{"x":5.81,"y":6.47},{"x":5.9,"y":6.43},{"x":6.8,"y":6.43},{"x":8.54,"y":6.43},{"x":3.42,"y":6.35},{"x":3.68,"y":6.3},{"x":4.35,"y":6.22},{"x":5.29,"y":6.14},{"x":5.55,"y":5.91},{"x":6.7,"y":6.12},{"x":7.84,"y":6.22},{"x":8.19,"y":6.22},{"x":2.56,"y":5.98},{"x":3.23,"y":5.98},{"x":9.96,"y":6.12},{"x":10.08,"y":5.95},{"x":1.39,"y":5.67},{"x":2.06,"y":5.77},{"x":2.27,"y":5.67},{"x":2.32,"y":5.46},{"x":1.75,"y":5.51},{"x":3.42,"y":5.77},{"x":3.42,"y":5.61},{"x":4.04,"y":5.61},{"x":4.72,"y":5.56},{"x":4.98,"y":5.3},{"x":5.27,"y":5.67},{"x":5.79,"y":5.46},{"x":6.33,"y":5.67},{"x":6.44,"y":5.74},{"x":6.7,"y":5.67},{"x":7.04,"y":5.67},{"x":7.22,"y":5.35},{"x":9.04,"y":5.32},{"x":9.48,"y":5.49},{"x":3.75,"y":5.25},{"x":3.99,"y":5.3},{"x":3.83,"y":5.09},{"x":4.77,"y":5.51},{"x":4.88,"y":5.19},{"x":4.96,"y":5.09},{"x":5.66,"y":4.88},{"x":5.6,"y":4.93},{"x":5.29,"y":4.98},{"x":5.55,"y":4.77},{"x":6.07,"y":5.22},{"x":6.18,"y":5.25},{"x":7.22,"y":5.14},{"x":8.05,"y":5.19},{"x":3.31,"y":4.98},{"x":3.26,"y":4.83},{"x":3.83,"y":4.83},{"x":4.69,"y":4.93},{"x":4.98,"y":4.77},{"x":6.8,"y":4.8},{"x":7.17,"y":4.46},{"x":7.06,"y":4.51},{"x":7.51,"y":4.75},{"x":8.63,"y":4.88},{"x":8.57,"y":4.62},{"x":9.59,"y":4.88},{"x":9.59,"y":4.62},{"x":9.04,"y":4.3},{"x":1.62,"y":4.8},{"x":2.06,"y":4.83},{"x":2.11,"y":4.77},{"x":2.84,"y":4.72},{"x":3.0,"y":4.67},{"x":3.21,"y":4.69},{"x":3.31,"y":4.56},{"x":3.71,"y":4.59},{"x":3.78,"y":4.51},{"x":3.47,"y":4.46},{"x":3.63,"y":4.44},{"x":4.15,"y":4.51},{"x":4.17,"y":4.54},{"x":6.39,"y":4.46},{"x":6.8,"y":4.2},{"x":7.74,"y":4.46},{"x":7.74,"y":4.14},{"x":1.0,"y":4.25},{"x":1.65,"y":4.3},{"x":1.75,"y":4.25},{"x":2.27,"y":4.25},{"x":2.64,"y":4.35},{"x":2.69,"y":4.25},{"x":2.9,"y":4.2},{"x":4.67,"y":4.35},{"x":4.72,"y":4.14},{"x":4.77,"y":4.02},{"x":1.49,"y":4.14},{"x":1.96,"y":4.04},{"x":2.43,"y":4.14},{"x":2.84,"y":4.14},{"x":3.0,"y":3.93},{"x":3.47,"y":4.14},{"x":3.83,"y":4.04},{"x":4.09,"y":4.14},{"x":4.41,"y":3.99},{"x":4.67,"y":3.93},{"x":4.82,"y":3.88},{"x":4.93,"y":3.93},{"x":5.27,"y":3.78},{"x":5.29,"y":3.67},{"x":5.75,"y":3.93},{"x":6.33,"y":4.17},{"x":6.73,"y":4.12},{"x":7.69,"y":4.09},{"x":8.31,"y":4.04},{"x":8.31,"y":3.83},{"x":8.31,"y":3.62},{"x":1.0,"y":3.88},{"x":1.0,"y":3.73},{"x":1.0,"y":3.57},{"x":1.18,"y":3.83},{"x":1.39,"y":3.67},{"x":1.59,"y":3.88},{"x":1.8,"y":3.73},{"x":1.85,"y":3.88},{"x":2.06,"y":3.83},{"x":2.38,"y":3.78},{"x":2.48,"y":3.62},{"x":2.69,"y":3.75},{"x":2.84,"y":3.88},{"x":3.21,"y":3.78},{"x":3.31,"y":3.62},{"x":3.42,"y":3.46},{"x":3.52,"y":3.67},{"x":3.73,"y":3.57},{"x":3.88,"y":3.62},{"x":4.09,"y":3.67},{"x":4.15,"y":3.52},{"x":6.23,"y":3.62},{"x":6.33,"y":3.64},{"x":6.75,"y":3.67},{"x":6.8,"y":3.57},{"x":7.17,"y":3.67},{"x":7.74,"y":3.73},{"x":7.74,"y":3.57},{"x":4.35,"y":3.46},{"x":4.41,"y":3.36},{"x":1.0,"y":3.46},{"x":1.07,"y":3.36},{"x":1.23,"y":3.41},{"x":1.44,"y":3.52},{"x":1.65,"y":3.31},{"x":1.85,"y":3.46},{"x":2.01,"y":3.36},{"x":2.18,"y":3.2},{"x":2.39,"y":3.25},{"x":2.54,"y":3.36},{"x":2.69,"y":3.2},{"x":2.9,"y":3.41},{"x":3.0,"y":3.25},{"x":3.21,"y":3.15},{"x":3.47,"y":3.2},{"x":3.63,"y":3.04},{"x":3.78,"y":3.25},{"x":4.98,"y":3.2},{"x":5.24,"y":3.2},{"x":5.55,"y":3.2},{"x":6.07,"y":2.99},{"x":7.17,"y":2.99},{"x":7.74,"y":2.89},{"x":4.25,"y":3.15},{"x":4.3,"y":2.89},{"x":1.02,"y":2.94},{"x":1.23,"y":2.83},{"x":1.44,"y":2.99},{"x":1.07,"y":2.73},{"x":1.54,"y":2.78},{"x":1.75,"y":2.89},{"x":1.96,"y":2.73},{"x":2.22,"y":2.99},{"x":2.38,"y":2.83},{"x":2.48,"y":2.62},{"x":2.69,"y":2.73},{"x":2.9,"y":2.89},{"x":3.05,"y":2.68},{"x":3.21,"y":2.62},{"x":3.42,"y":2.73},{"x":3.68,"y":2.57},{"x":3.73,"y":2.68},{"x":5.08,"y":2.68},{"x":6.75,"y":2.78},{"x":6.8,"y":2.62},{"x":7.17,"y":2.68},{"x":7.22,"y":2.52},{"x":1.0,"y":2.57},{"x":1.07,"y":2.47},{"x":1.23,"y":2.41},{"x":1.0,"y":2.31},{"x":1.18,"y":2.2},{"x":1.36,"y":2.47},{"x":1.49,"y":2.31},{"x":1.65,"y":2.52},{"x":1.8,"y":2.26},{"x":1.96,"y":2.41},{"x":2.11,"y":2.15},{"x":2.38,"y":2.47},{"x":2.54,"y":2.36},{"x":2.69,"y":2.57},{"x":2.79,"y":2.31},{"x":2.95,"y":2.2},{"x":3.11,"y":2.31},{"x":3.26,"y":2.52},{"x":3.42,"y":2.2},{"x":3.52,"y":2.15},{"x":3.63,"y":2.26},{"x":4.0,"y":2.26},{"x":4.15,"y":2.15},{"x":4.35,"y":2.41},{"x":4.41,"y":2.47},{"x":4.46,"y":2.26},{"x":4.72,"y":2.05},{"x":5.08,"y":2.2},{"x":5.19,"y":2.1},{"x":6.07,"y":2.31},{"x":6.39,"y":2.2},{"x":6.8,"y":1.99},{"x":1.02,"y":2.1},{"x":1.13,"y":1.94},{"x":1.0,"y":1.78},{"x":1.28,"y":1.84},{"x":1.44,"y":1.63},{"x":1.59,"y":1.94},{"x":1.75,"y":1.73},{"x":1.91,"y":1.84},{"x":2.06,"y":1.52},{"x":2.38,"y":1.63},{"x":2.58,"y":1.78},{"x":3.0,"y":1.99},{"x":3.92,"y":1.86},{"x":4.3,"y":1.86},{"x":4.41,"y":1.78},{"x":4.51,"y":1.73},{"x":3.11,"y":1.63},{"x":1.18,"y":1.47},{"x":1.65,"y":1.47},{"x":1.85,"y":1.52},{"x":2.35,"y":1.33},{"x":2.6,"y":1.26},{"x":5.48,"y":1.52},{"x":1.13,"y":1.26}
],
"g": [
{"x":1,"m":0.33,"lo":-1.01,"hi":1.66},{"x":2,"m":-0.23,"lo":-1.43,"hi":1.0},{"x":3,"m":-0.19,"lo":-2.12,"hi":1.75},{"x":4,"m":-0.5,"lo":-2.73,"hi":1.75},{"x":5,"m":-0.27,"lo":-3.03,"hi":2.49},{"x":6,"m":-0.54,"lo":-3.17,"hi":2.11},{"x":7,"m":-1.69,"lo":-5,"hi":1.86}
],
"h": [
{"x":1,"m":0.0,"lo":-0.58,"hi":0.59},{"x":2,"m":-0.44,"lo":-2.0,"hi":1.22},{"x":3,"m":-1.15,"lo":-2.6,"hi":0.31},{"x":4,"m":-1.93,"lo":-3.55,"hi":-0.36},{"x":5,"m":-2.09,"lo":-3.65,"hi":-0.58},{"x":6,"m":-2.96,"lo":-4.4,"hi":-1.51},{"x":7,"m":-4.32,"lo":-5,"hi":-3.05}
],
"i": [
{"x":1,"m":0.59,"lo":-0.58,"hi":1.72},{"x":2,"m":0.4,"lo":-1.55,"hi":2.38},{"x":3,"m":-0.06,"lo":-2.15,"hi":2.1},{"x":4,"m":0.29,"lo":-2.3,"hi":2.91},{"x":5,"m":0.29,"lo":-2.33,"hi":2.94},{"x":6,"m":0.32,"lo":-2.44,"hi":3.15},{"x":7,"m":-0.24,"lo":-3.1,"hi":2.67}
],
"caption": [
{"line":1,"k":"bold","t":"Figure 2"},
{"line":1,"k":"rest","t":": Same as Figure 1 but with PR RR estimates."},
{"line":2,"k":"body","t":"(a), (d), and (g) PR rain average from 2 to 4 km,"},
{"line":3,"k":"body","t":"PR_AR1. (b), (e), and (h) PR RR average from rain top"},
{"line":4,"k":"body","t":"to rain bottom, PR_AR2. (c), (f), and (i) PR estimated"},
{"line":5,"k":"body","t":"surface RR, PR_ESR."}
]
},
"spacing": 63,
"vconcat": [
 {"spacing": 19, "vconcat": [
  {"spacing": 2, "vconcat": [
   {"bounds": "flush", "spacing": 0, "hconcat": [
    {"width": 8, "height": 10, "view": {"stroke": null}, "data": {"values": []}, "mark": "point"},
    {"bounds": "flush", "spacing": 186, "hconcat": [
     {"width": 481, "height": 480, "resolve": {"axis": {"x": "independent", "y": "independent"}}, "layer": [
      {"data": {"name": "diag"}, "mark": {"type": "line", "strokeDash": [20, 10], "color": "#555", "strokeWidth": 1.5},
       "encoding": {"x": {"field": "x", "type": "quantitative", "scale": {"domain": [0, 15], "nice": false}, "axis": {"orient": "top", "labels": false, "title": null, "values": [0, 5, 10, 15]}},
                    "y": {"field": "y", "type": "quantitative", "scale": {"domain": [0, 15], "nice": false}, "axis": {"orient": "right", "labels": false, "title": null, "values": [0, 5, 10, 15]}}}},
      {"data": {"name": "a"}, "mark": {"type": "point", "shape": "M-1,0H1M0,-1V1", "filled": false, "stroke": "black", "strokeWidth": 1.8, "size": 90, "opacity": 1},
       "encoding": {"x": {"field": "x", "type": "quantitative", "scale": {"domain": [0, 15], "nice": false}, "axis": {"orient": "bottom", "values": [0, 5, 10, 15], "title": "PR_AR1 RR (mm.h⁻¹)"}},
                    "y": {"field": "y", "type": "quantitative", "scale": {"domain": [0, 15], "nice": false}, "axis": {"orient": "left", "values": [0, 5, 10, 15], "title": "RA2 RR (mm.h⁻¹)"}}}},
      {"data": {"values": [{"x": 1.0, "y": 12.4, "t": "(a)"}]}, "mark": {"type": "text", "align": "left", "baseline": "middle", "fontSize": 45},
       "encoding": {"x": {"field": "x", "type": "quantitative", "scale": {"domain": [0, 15], "nice": false}, "axis": null}, "y": {"field": "y", "type": "quantitative", "scale": {"domain": [0, 15], "nice": false}, "axis": null}, "text": {"field": "t"}}}
     ]},
     {"width": 481, "height": 480, "resolve": {"axis": {"x": "independent", "y": "independent"}}, "layer": [
      {"data": {"name": "diag"}, "mark": {"type": "line", "strokeDash": [20, 10], "color": "#555", "strokeWidth": 1.5},
       "encoding": {"x": {"field": "x", "type": "quantitative", "scale": {"domain": [0, 15], "nice": false}, "axis": {"orient": "top", "labels": false, "title": null, "values": [0, 5, 10, 15]}},
                    "y": {"field": "y", "type": "quantitative", "scale": {"domain": [0, 15], "nice": false}, "axis": {"orient": "right", "labels": false, "title": null, "values": [0, 5, 10, 15]}}}},
      {"data": {"name": "b"}, "mark": {"type": "point", "shape": "M-1,0H1M0,-1V1", "filled": false, "stroke": "black", "strokeWidth": 1.8, "size": 90, "opacity": 1},
       "encoding": {"x": {"field": "x", "type": "quantitative", "scale": {"domain": [0, 15], "nice": false}, "axis": {"orient": "bottom", "values": [0, 5, 10, 15], "title": "PR_AR2 RR (mm.h⁻¹)"}},
                    "y": {"field": "y", "type": "quantitative", "scale": {"domain": [0, 15], "nice": false}, "axis": {"orient": "left", "values": [0, 5, 10, 15], "title": "RA2 RR (mm.h⁻¹)"}}}},
      {"data": {"values": [{"x": 1.0, "y": 12.4, "t": "(b)"}]}, "mark": {"type": "text", "align": "left", "baseline": "middle", "fontSize": 45},
       "encoding": {"x": {"field": "x", "type": "quantitative", "scale": {"domain": [0, 15], "nice": false}, "axis": null}, "y": {"field": "y", "type": "quantitative", "scale": {"domain": [0, 15], "nice": false}, "axis": null}, "text": {"field": "t"}}}
     ]},
     {"width": 481, "height": 480, "resolve": {"axis": {"x": "independent", "y": "independent"}}, "layer": [
      {"data": {"name": "diag"}, "mark": {"type": "line", "strokeDash": [20, 10], "color": "#555", "strokeWidth": 1.5},
       "encoding": {"x": {"field": "x", "type": "quantitative", "scale": {"domain": [0, 15], "nice": false}, "axis": {"orient": "top", "labels": false, "title": null, "values": [0, 5, 10, 15]}},
                    "y": {"field": "y", "type": "quantitative", "scale": {"domain": [0, 15], "nice": false}, "axis": {"orient": "right", "labels": false, "title": null, "values": [0, 5, 10, 15]}}}},
      {"data": {"name": "c"}, "mark": {"type": "point", "shape": "M-1,0H1M0,-1V1", "filled": false, "stroke": "black", "strokeWidth": 1.8, "size": 90, "opacity": 1},
       "encoding": {"x": {"field": "x", "type": "quantitative", "scale": {"domain": [0, 15], "nice": false}, "axis": {"orient": "bottom", "values": [0, 5, 10, 15], "title": "PR_ESR RR (mm.h⁻¹)"}},
                    "y": {"field": "y", "type": "quantitative", "scale": {"domain": [0, 15], "nice": false}, "axis": {"orient": "left", "values": [0, 5, 10, 15], "title": "RA2 RR (mm.h⁻¹)"}}}},
      {"data": {"values": [{"x": 1.0, "y": 12.4, "t": "(c)"}]}, "mark": {"type": "text", "align": "left", "baseline": "middle", "fontSize": 45},
       "encoding": {"x": {"field": "x", "type": "quantitative", "scale": {"domain": [0, 15], "nice": false}, "axis": null}, "y": {"field": "y", "type": "quantitative", "scale": {"domain": [0, 15], "nice": false}, "axis": null}, "text": {"field": "t"}}}
     ]}
    ]}
   ]},
   {"bounds": "flush", "spacing": 0, "hconcat": [
    {"width": 8, "height": 10, "view": {"stroke": null}, "data": {"values": []}, "mark": "point"},
    {"bounds": "flush", "spacing": 186, "hconcat": [
     {"width": 481, "height": 480, "resolve": {"axis": {"x": "independent", "y": "independent"}}, "layer": [
      {"data": {"name": "diag"}, "mark": {"type": "line", "strokeDash": [20, 10], "color": "#555", "strokeWidth": 1.5},
       "encoding": {"x": {"field": "x", "type": "quantitative", "scale": {"domain": [0, 15], "nice": false}, "axis": {"orient": "top", "labels": false, "title": null, "values": [0, 5, 10, 15]}},
                    "y": {"field": "y", "type": "quantitative", "scale": {"domain": [0, 15], "nice": false}, "axis": {"orient": "right", "labels": false, "title": null, "values": [0, 5, 10, 15]}}}},
      {"data": {"name": "d"}, "mark": {"type": "point", "shape": "M-1,0H1M0,-1V1", "filled": false, "stroke": "black", "strokeWidth": 1.8, "size": 90, "opacity": 1},
       "encoding": {"x": {"field": "x", "type": "quantitative", "scale": {"domain": [0, 15], "nice": false}, "axis": {"orient": "bottom", "values": [0, 5, 10, 15], "title": "PR_AR1 RR (mm.h⁻¹)"}},
                    "y": {"field": "y", "type": "quantitative", "scale": {"domain": [0, 15], "nice": false}, "axis": {"orient": "left", "values": [0, 5, 10, 15], "title": "RA2_cor RR (mm.h⁻¹)"}}}},
      {"data": {"values": [{"x": 1.0, "y": 12.4, "t": "(d)"}]}, "mark": {"type": "text", "align": "left", "baseline": "middle", "fontSize": 45},
       "encoding": {"x": {"field": "x", "type": "quantitative", "scale": {"domain": [0, 15], "nice": false}, "axis": null}, "y": {"field": "y", "type": "quantitative", "scale": {"domain": [0, 15], "nice": false}, "axis": null}, "text": {"field": "t"}}}
     ]},
     {"width": 481, "height": 480, "resolve": {"axis": {"x": "independent", "y": "independent"}}, "layer": [
      {"data": {"name": "diag"}, "mark": {"type": "line", "strokeDash": [20, 10], "color": "#555", "strokeWidth": 1.5},
       "encoding": {"x": {"field": "x", "type": "quantitative", "scale": {"domain": [0, 15], "nice": false}, "axis": {"orient": "top", "labels": false, "title": null, "values": [0, 5, 10, 15]}},
                    "y": {"field": "y", "type": "quantitative", "scale": {"domain": [0, 15], "nice": false}, "axis": {"orient": "right", "labels": false, "title": null, "values": [0, 5, 10, 15]}}}},
      {"data": {"name": "e"}, "mark": {"type": "point", "shape": "M-1,0H1M0,-1V1", "filled": false, "stroke": "black", "strokeWidth": 1.8, "size": 90, "opacity": 1},
       "encoding": {"x": {"field": "x", "type": "quantitative", "scale": {"domain": [0, 15], "nice": false}, "axis": {"orient": "bottom", "values": [0, 5, 10, 15], "title": "PR_AR2 RR (mm.h⁻¹)"}},
                    "y": {"field": "y", "type": "quantitative", "scale": {"domain": [0, 15], "nice": false}, "axis": {"orient": "left", "values": [0, 5, 10, 15], "title": "RA2_cor RR (mm.h⁻¹)"}}}},
      {"data": {"values": [{"x": 1.0, "y": 12.4, "t": "(e)"}]}, "mark": {"type": "text", "align": "left", "baseline": "middle", "fontSize": 45},
       "encoding": {"x": {"field": "x", "type": "quantitative", "scale": {"domain": [0, 15], "nice": false}, "axis": null}, "y": {"field": "y", "type": "quantitative", "scale": {"domain": [0, 15], "nice": false}, "axis": null}, "text": {"field": "t"}}}
     ]},
     {"width": 481, "height": 480, "resolve": {"axis": {"x": "independent", "y": "independent"}}, "layer": [
      {"data": {"name": "diag"}, "mark": {"type": "line", "strokeDash": [20, 10], "color": "#555", "strokeWidth": 1.5},
       "encoding": {"x": {"field": "x", "type": "quantitative", "scale": {"domain": [0, 15], "nice": false}, "axis": {"orient": "top", "labels": false, "title": null, "values": [0, 5, 10, 15]}},
                    "y": {"field": "y", "type": "quantitative", "scale": {"domain": [0, 15], "nice": false}, "axis": {"orient": "right", "labels": false, "title": null, "values": [0, 5, 10, 15]}}}},
      {"data": {"name": "f"}, "mark": {"type": "point", "shape": "M-1,0H1M0,-1V1", "filled": false, "stroke": "black", "strokeWidth": 1.8, "size": 90, "opacity": 1},
       "encoding": {"x": {"field": "x", "type": "quantitative", "scale": {"domain": [0, 15], "nice": false}, "axis": {"orient": "bottom", "values": [0, 5, 10, 15], "title": "PR_ESR RR (mm.h⁻¹)"}},
                    "y": {"field": "y", "type": "quantitative", "scale": {"domain": [0, 15], "nice": false}, "axis": {"orient": "left", "values": [0, 5, 10, 15], "title": "RA2_cor RR (mm.h⁻¹)"}}}},
      {"data": {"values": [{"x": 1.0, "y": 12.4, "t": "(f)"}]}, "mark": {"type": "text", "align": "left", "baseline": "middle", "fontSize": 45},
       "encoding": {"x": {"field": "x", "type": "quantitative", "scale": {"domain": [0, 15], "nice": false}, "axis": null}, "y": {"field": "y", "type": "quantitative", "scale": {"domain": [0, 15], "nice": false}, "axis": null}, "text": {"field": "t"}}}
     ]}
    ]}
   ]}
  ]},
  {"bounds": "flush", "spacing": 177, "hconcat": [
   {"width": 496, "height": 496, "resolve": {"axis": {"x": "independent", "y": "independent"}}, "layer": [
    {"data": {"name": "g"}, "mark": {"type": "rule", "color": "black", "strokeWidth": 1.5},
     "encoding": {"x": {"field": "x", "type": "quantitative", "scale": {"domain": [0, 7.5], "nice": false}, "axis": {"orient": "bottom", "values": [0, 2, 4, 6], "title": "RA2_cor RR (mm.h⁻¹)", "labelPadding": 29, "titlePadding": 28}},
                  "y": {"field": "lo", "type": "quantitative", "scale": {"domain": [-5, 4], "nice": false}, "axis": {"orient": "left", "values": [-4, -2, 0, 2, 4], "labelExpr": "replace(datum.label, '−', '-')", "title": "PR_AR1-RA2_cor RR (mm.h⁻¹)", "labelPadding": 18, "titlePadding": 22, "titleFontSize": 49, "titleY": 276}},
                  "y2": {"field": "hi"}}},
    {"data": {"name": "g"}, "mark": {"type": "line", "color": "#333", "strokeWidth": 1.3},
     "encoding": {"x": {"field": "x", "type": "quantitative", "scale": {"domain": [0, 7.5], "nice": false}, "axis": {"orient": "top", "labels": false, "title": null, "values": [0, 2, 4, 6]}},
                  "y": {"field": "m", "type": "quantitative", "scale": {"domain": [-5, 4], "nice": false}, "axis": {"orient": "right", "labels": false, "title": null, "values": [-4, -2, 0, 2, 4]}}}},
    {"data": {"values": [{"x": 0.55, "y": 2.38, "t": "(g)"}]}, "mark": {"type": "text", "align": "left", "baseline": "middle", "fontSize": 42},
     "encoding": {"x": {"field": "x", "type": "quantitative", "scale": {"domain": [0, 7.5], "nice": false}, "axis": null}, "y": {"field": "y", "type": "quantitative", "scale": {"domain": [-5, 4], "nice": false}, "axis": null}, "text": {"field": "t"}}}
   ]},
   {"width": 496, "height": 496, "resolve": {"axis": {"x": "independent", "y": "independent"}}, "layer": [
    {"data": {"name": "h"}, "mark": {"type": "rule", "color": "black", "strokeWidth": 1.5},
     "encoding": {"x": {"field": "x", "type": "quantitative", "scale": {"domain": [0, 7.5], "nice": false}, "axis": {"orient": "bottom", "values": [0, 2, 4, 6], "title": "RA2_cor RR (mm.h⁻¹)", "labelPadding": 29, "titlePadding": 28}},
                  "y": {"field": "lo", "type": "quantitative", "scale": {"domain": [-5, 4], "nice": false}, "axis": {"orient": "left", "values": [-4, -2, 0, 2, 4], "labelExpr": "replace(datum.label, '−', '-')", "title": "PR_AR2-RA2_cor RR (mm.h⁻¹)", "labelPadding": 18, "titlePadding": 22, "titleFontSize": 49, "titleY": 276}},
                  "y2": {"field": "hi"}}},
    {"data": {"name": "h"}, "mark": {"type": "line", "color": "#333", "strokeWidth": 1.3},
     "encoding": {"x": {"field": "x", "type": "quantitative", "scale": {"domain": [0, 7.5], "nice": false}, "axis": {"orient": "top", "labels": false, "title": null, "values": [0, 2, 4, 6]}},
                  "y": {"field": "m", "type": "quantitative", "scale": {"domain": [-5, 4], "nice": false}, "axis": {"orient": "right", "labels": false, "title": null, "values": [-4, -2, 0, 2, 4]}}}},
    {"data": {"values": [{"x": 0.5, "y": 2.38, "t": "(h)"}]}, "mark": {"type": "text", "align": "left", "baseline": "middle", "fontSize": 42},
     "encoding": {"x": {"field": "x", "type": "quantitative", "scale": {"domain": [0, 7.5], "nice": false}, "axis": null}, "y": {"field": "y", "type": "quantitative", "scale": {"domain": [-5, 4], "nice": false}, "axis": null}, "text": {"field": "t"}}}
   ]},
   {"width": 496, "height": 496, "resolve": {"axis": {"x": "independent", "y": "independent"}}, "layer": [
    {"data": {"name": "i"}, "mark": {"type": "rule", "color": "black", "strokeWidth": 1.5},
     "encoding": {"x": {"field": "x", "type": "quantitative", "scale": {"domain": [0, 7.5], "nice": false}, "axis": {"orient": "bottom", "values": [0, 2, 4, 6], "title": "RA2_cor RR (mm.h⁻¹)", "labelPadding": 29, "titlePadding": 28}},
                  "y": {"field": "lo", "type": "quantitative", "scale": {"domain": [-5, 4], "nice": false}, "axis": {"orient": "left", "values": [-4, -2, 0, 2, 4], "labelExpr": "replace(datum.label, '−', '-')", "title": "PR_ESR-RA2_cor RR (mm.h⁻¹)", "labelPadding": 18, "titlePadding": 22, "titleFontSize": 49, "titleY": 276}},
                  "y2": {"field": "hi"}}},
    {"data": {"name": "i"}, "mark": {"type": "line", "color": "#333", "strokeWidth": 1.3},
     "encoding": {"x": {"field": "x", "type": "quantitative", "scale": {"domain": [0, 7.5], "nice": false}, "axis": {"orient": "top", "labels": false, "title": null, "values": [0, 2, 4, 6]}},
                  "y": {"field": "m", "type": "quantitative", "scale": {"domain": [-5, 4], "nice": false}, "axis": {"orient": "right", "labels": false, "title": null, "values": [-4, -2, 0, 2, 4]}}}},
    {"data": {"values": [{"x": 0.54, "y": 2.38, "t": "(i)"}]}, "mark": {"type": "text", "align": "left", "baseline": "middle", "fontSize": 42},
     "encoding": {"x": {"field": "x", "type": "quantitative", "scale": {"domain": [0, 7.5], "nice": false}, "axis": null}, "y": {"field": "y", "type": "quantitative", "scale": {"domain": [-5, 4], "nice": false}, "axis": null}, "text": {"field": "t"}}}
   ]}
  ]}
 ]},
 {"width": 1900, "height": 445, "view": {"stroke": null}, "data": {"name": "caption"}, "layer": [
  {"transform": [{"filter": "datum.k == 'bold'"}], "mark": {"type": "text", "align": "left", "baseline": "middle", "fontSize": 74.5, "fontWeight": "bold", "dx": -28},
   "encoding": {"x": {"datum": 0, "type": "quantitative", "scale": {"domain": [0, 1]}, "axis": null}, "y": {"field": "line", "type": "quantitative", "scale": {"domain": [0.5, 5.5], "reverse": true}, "axis": null}, "text": {"field": "t"}}},
  {"transform": [{"filter": "datum.k == 'rest'"}], "mark": {"type": "text", "align": "left", "baseline": "middle", "fontSize": 74.5, "dx": 262},
   "encoding": {"x": {"datum": 0, "type": "quantitative", "scale": {"domain": [0, 1]}, "axis": null}, "y": {"field": "line", "type": "quantitative", "scale": {"domain": [0.5, 5.5], "reverse": true}, "axis": null}, "text": {"field": "t"}}},
  {"transform": [{"filter": "datum.k == 'body'"}], "mark": {"type": "text", "align": "left", "baseline": "middle", "fontSize": 74.5, "dx": -28},
   "encoding": {"x": {"datum": 0, "type": "quantitative", "scale": {"domain": [0, 1]}, "axis": null}, "y": {"field": "line", "type": "quantitative", "scale": {"domain": [0.5, 5.5], "reverse": true}, "axis": null}, "text": {"field": "t"}}}
 ]}
]
}
